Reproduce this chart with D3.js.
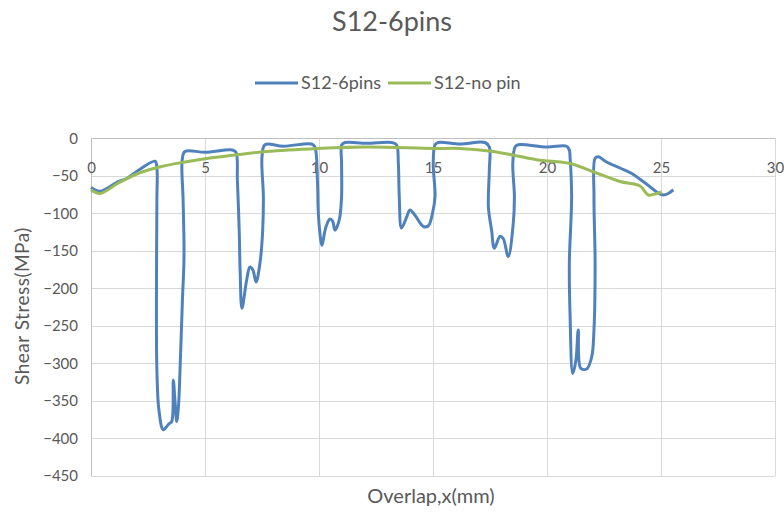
<!DOCTYPE html>
<html>
<head>
<meta charset="utf-8">
<title>S12-6pins</title>
<script src="https://cdn.jsdelivr.net/npm/d3@7/dist/d3.min.js"></script>
<style>
  body { margin: 0; background: #fff; }
  text { font-family: Lato, "Open Sans", sans-serif; fill: #595959; }
  .grid line { stroke: #d9d9d9; stroke-width: 1; shape-rendering: crispEdges; }
  .grid path { display: none; }
  .axis path { display: none; }
  .axis line { display: none; }
  .axis text { font-size: 15px; }
</style>
</head>
<body>
<svg id="chart"></svg>
<script>
// S12-6pins (x mm, shear stress MPa) in drawing order
var pinsX = [0, 0.39, 1.2, 1.57, 2.08, 2.81, 2.89, 2.89, 2.87, 2.89, 2.98, 3.17, 3.42, 3.54, 3.61, 3.68, 3.76, 3.84, 3.90, 4.01, 4.08, 4.04, 4.00, 4.12,
  5.0, 6.2, 6.36, 6.42, 6.50, 6.54, 6.62, 6.83, 6.97, 7.10, 7.24, 7.41, 7.53, 7.56, 7.50, 7.63, 8.43, 9.68, 9.82,
  9.93, 9.97, 10.04, 10.12, 10.31, 10.48, 10.60, 10.70, 10.89, 10.99, 10.99, 11.0, 11.14, 12.09, 13.19, 13.4,
  13.48, 13.52, 13.62, 13.85, 13.99, 14.21, 14.58, 14.80, 14.98, 15.09, 15.01, 15.09, 15.23, 16.18, 17.28, 17.47,
  17.47, 17.43, 17.57, 17.69, 17.94, 18.08, 18.30, 18.52, 18.57, 18.50, 18.60, 18.74, 19.99, 20.86, 20.98,
  21.01, 21.08, 20.98, 21.01, 21.13, 21.27, 21.37, 21.48, 21.74, 21.96, 22.06, 22.11, 22.06, 22.11, 22.25,
  22.61, 23.20, 23.70, 24.08, 24.52, 24.81, 25.10, 25.32, 25.54];
var pinsY = [-66, -71, -58, -54, -43, -31, -40, -83, -216, -309, -363, -389, -381, -378, -323, -349, -378, -356, -313, -216, -158, -83, -29, -18,
  -19, -16, -19, -56, -123, -176, -227, -189, -172, -176, -192, -167, -123, -78, -25, -9, -11, -8, -12,
  -56, -100, -127, -143, -118, -108, -111, -123, -109, -78, -34, -9, -6, -7, -6, -9,
  -34, -78, -120, -105, -96, -103, -118, -117, -100, -78, -34, -9, -6, -8, -6, -12,
  -43, -92, -123, -147, -131, -134, -158, -114, -78, -34, -12, -9, -12, -11, -16,
  -25, -78, -167, -234, -314, -296, -256, -307, -308, -292, -256, -167, -78, -27, -25,
  -32, -40, -47, -55, -65, -72, -76, -74, -69];

// S12-no pin
var noPinX = [0, 0.39, 1.2, 2.08, 3.1, 4.12, 5.15, 6.24, 7.7, 9.97, 12.09, 15.01, 16.18, 17.65, 19.55, 21.0, 22.03, 23.2, 24.08, 24.44, 24.81, 25.03];
var noPinY = [-69, -74, -60, -47, -38, -32, -27, -23, -18, -14, -12, -14, -14, -18, -29, -34, -45, -58, -64, -76, -74, -72];

var seriesNames = ['S12-6pins', 'S12-no pin'];
var xTicks = [0, 5, 10, 15, 20, 25, 30];
var yTicks = [0, -50, -100, -150, -200, -250, -300, -350, -400, -450];

var W = 784, H = 513;
var margin = { top: 138, left: 91, right: 9, bottom: 37.5 };
var width = W - margin.left - margin.right,
  height = H - margin.top - margin.bottom;

var svg = d3.select('#chart').attr('width', W).attr('height', H);

var x = d3.scaleLinear().domain([0, 30]).range([0, width]);
var y = d3.scaleLinear().domain([0, -450]).range([0, height]);

var g = svg.append('g')
  .attr('transform', 'translate(' + margin.left + ',' + margin.top + ')');

// gridlines
g.append('g').attr('class', 'grid')
  .call(d3.axisLeft(y).tickValues(yTicks).tickSize(-width).tickFormat(''));
g.append('g').attr('class', 'grid')
  .attr('transform', 'translate(0,' + height + ')')
  .call(d3.axisBottom(x).tickValues(xTicks).tickSize(-height).tickFormat(''));

// axis lines
g.append('line').attr('x1', 0).attr('x2', width).attr('y1', y(0)).attr('y2', y(0))
  .attr('stroke', '#bfbfbf').attr('shape-rendering', 'crispEdges');
g.append('line').attr('x1', 0).attr('x2', 0).attr('y1', 0).attr('y2', height)
  .attr('stroke', '#bfbfbf').attr('shape-rendering', 'crispEdges');

// x axis sits on the 0 line, labels underneath
var xAxis = g.append('g').attr('class', 'axis')
  .attr('transform', 'translate(0,' + y(0) + ')')
  .call(d3.axisBottom(x).tickValues(xTicks).tickSize(0).tickPadding(0));
xAxis.selectAll('text').attr('y', 30).attr('dy', '0.35em');

var yAxis = g.append('g').attr('class', 'axis')
  .call(d3.axisLeft(y).tickValues(yTicks).tickSize(0).tickPadding(13));
yAxis.selectAll('text').attr('dy', '0.35em');

var line = d3.line()
  .x(d => x(d[0]))
  .y(d => y(d[1]))
  .curve(d3.curveCatmullRom.alpha(0.5));

var pinsData = pinsX.map((v, i) => [v, pinsY[i]]);
var noPinData = noPinX.map((v, i) => [v, noPinY[i]]);

g.append('path').datum(pinsData)
  .attr('d', line).attr('fill', 'none')
  .attr('stroke', '#4f81bd').attr('stroke-width', 3).attr('stroke-linejoin', 'round');

g.append('path').datum(noPinData)
  .attr('d', line).attr('fill', 'none')
  .attr('stroke', '#9bbb59').attr('stroke-width', 3).attr('stroke-linejoin', 'round');

// title
svg.append('text')
  .attr('x', 392).attr('y', 31)
  .attr('text-anchor', 'middle')
  .style('font-size', '27px')
  .text('S12-6pins');

// legend
var colors = ['#4f81bd', '#9bbb59'];
var legX = [255, 388];
seriesNames.forEach(function (name, i) {
  svg.append('line')
    .attr('x1', legX[i]).attr('x2', legX[i] + 43)
    .attr('y1', 83).attr('y2', 83)
    .attr('stroke', colors[i]).attr('stroke-width', 3);
  svg.append('text')
    .attr('x', legX[i] + 46).attr('y', 83).attr('dy', '0.35em')
    .style('font-size', '18px')
    .text(name);
});

// axis titles
svg.append('text')
  .attr('x', 431).attr('y', 496).attr('dy', '0.35em')
  .attr('text-anchor', 'middle')
  .style('font-size', '20px')
  .text('Overlap,x(mm)');

svg.append('text')
  .attr('transform', 'translate(22,306) rotate(-90)')
  .attr('dy', '0.35em')
  .attr('text-anchor', 'middle')
  .style('font-size', '19px')
  .style('letter-spacing', '0.5px')
  .text('Shear Stress(MPa)');
</script>
</body>
</html>
